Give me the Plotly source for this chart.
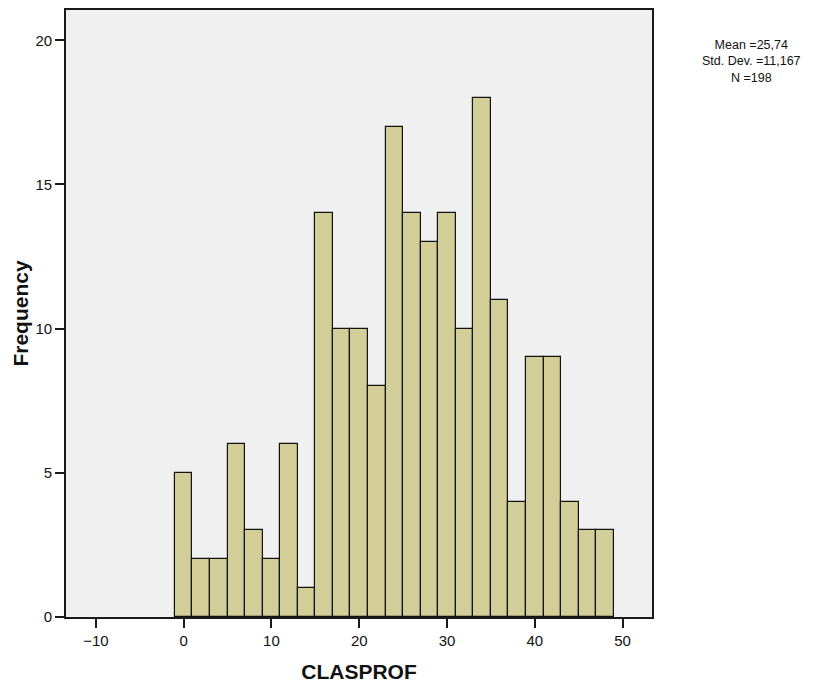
import plotly.graph_objects as go

# Histogram of CLASPROF: bin centres (width 2) and frequencies
bin_centers = [0, 2, 4, 6, 8, 10, 12, 14, 16, 18, 20, 22, 24, 26, 28, 30, 32, 34, 36, 38, 40, 42, 44, 46, 48]
frequencies = [5, 2, 2, 6, 3, 2, 6, 1, 14, 10, 10, 8, 17, 14, 13, 14, 10, 18, 11, 4, 9, 9, 4, 3, 3]
bin_width = 2

stats_lines = ["Mean =25,74", "Std. Dev. =11,167", "N =198"]
x_ticks = [-10, 0, 10, 20, 30, 40, 50]
y_ticks = [0, 5, 10, 15, 20]

font_family = "Liberation Sans, Arial, sans-serif"

fig = go.Figure(
    go.Bar(
        x=bin_centers,
        y=frequencies,
        width=[bin_width] * len(bin_centers),
        marker=dict(color="#d3ce98", line=dict(color="#111111", width=1.2)),
        hoverinfo="x+y",
    )
)

axis_common = dict(
    showgrid=False,
    zeroline=False,
    showline=True,
    linecolor="#1a1a1a",
    linewidth=1.8,
    mirror=True,
    ticks="outside",
    ticklen=9,
    tickwidth=1.8,
    tickcolor="#1a1a1a",
    tickfont=dict(family=font_family, size=15, color="#111111"),
)

fig.update_layout(
    width=820,
    height=688,
    margin=dict(l=66, r=168, t=8, b=70),
    paper_bgcolor="white",
    plot_bgcolor="#f0f0f0",
    showlegend=False,
    bargap=0,
    font=dict(family=font_family, color="#111111"),
    xaxis=dict(
        axis_common,
        range=[-13.4, 53.35],
        tickvals=x_ticks,
        title=dict(text="<b>CLASPROF</b>", font=dict(family=font_family, size=21), standoff=16),
    ),
    yaxis=dict(
        axis_common,
        range=[0, 21.05],
        tickvals=y_ticks,
        title=dict(text="<b>Frequency</b>", font=dict(family=font_family, size=21), standoff=1),
    ),
    annotations=[
        # Summary statistics block to the right of the plot
        dict(
            text="<br>".join(stats_lines),
            xref="paper",
            yref="paper",
            x=1.17,
            y=0.915,
            xanchor="center",
            yanchor="middle",
            align="center",
            showarrow=False,
            font=dict(family=font_family, size=12.5, color="#111111"),
        )
    ],
)

fig.write_html("out.html")
